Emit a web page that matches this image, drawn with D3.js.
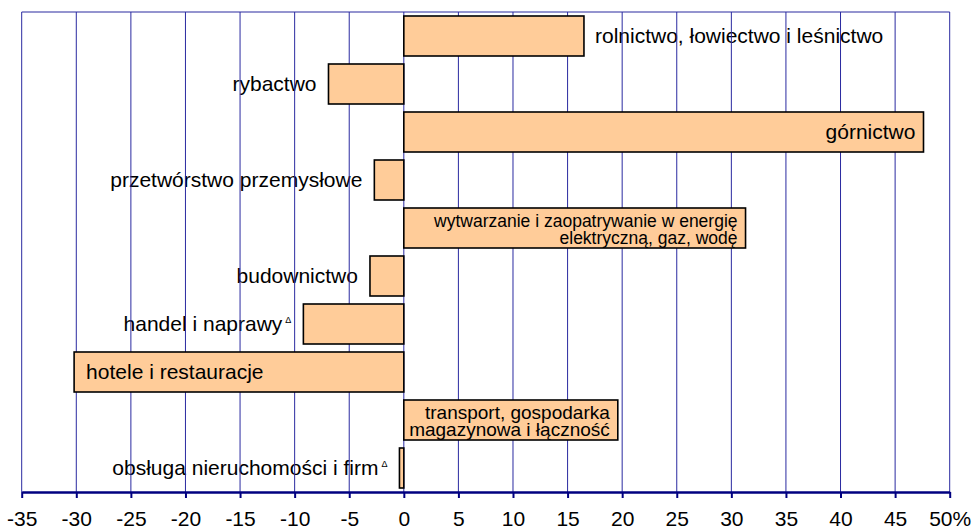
<!DOCTYPE html>
<html>
<head>
<meta charset="utf-8">
<script src="https://cdn.jsdelivr.net/npm/d3@7"></script>
<style>
  html, body { margin: 0; padding: 0; background: #fff; }
  svg { display: block; font-family: "Liberation Sans", Arial, sans-serif; }
</style>
</head>
<body>
<svg id="chart" width="975" height="531"></svg>
<script>
// ---- data ----
const categories = [
  "rolnictwo, łowiectwo i leśnictwo",
  "rybactwo",
  "górnictwo",
  "przetwórstwo przemysłowe",
  "wytwarzanie i zaopatrywanie w energię elektryczną, gaz, wodę",
  "budownictwo",
  "handel i naprawy",
  "hotele i restauracje",
  "transport, gospodarka magazynowa i łączność",
  "obsługa nieruchomości i firm"
];
const values = [16.5, -6.9, 47.6, -2.7, 31.3, -3.1, -9.2, -30.2, 19.6, -0.4];
const labelLines = [
  ["rolnictwo, łowiectwo i leśnictwo"],
  ["rybactwo"],
  ["górnictwo"],
  ["przetwórstwo przemysłowe"],
  ["wytwarzanie i zaopatrywanie w energię", "elektryczną, gaz, wodę"],
  ["budownictwo"],
  ["handel i naprawy"],
  ["hotele i restauracje"],
  ["transport, gospodarka", "magazynowa i łączność"],
  ["obsługa nieruchomości i firm"]
];
const labelMarks = ["", "", "", "", "", "", "Δ", "", "", "Δ"];
const labelPlacement = ["outside", "outside", "insideEnd", "outside", "insideEnd",
                        "outside", "outside", "insideStart", "insideEnd", "outside"];
const tickValues = [-35, -30, -25, -20, -15, -10, -5, 0, 5, 10, 15, 20, 25, 30, 35, 40, 45, 50];
const tickLabels = ["-35", "-30", "-25", "-20", "-15", "-10", "-5", "0", "5", "10", "15", "20", "25", "30", "35", "40", "45", "50%"];

// ---- layout ----
const svg = d3.select("#chart");
const plot = { left: 21.7, right: 949.7, top: 12, bottom: 492 };

const x = d3.scaleLinear().domain([-35, 50]).range([plot.left, plot.right]);
const y = d3.scaleBand().domain(categories).range([plot.top, plot.bottom])
  .paddingInner(1 / 6).paddingOuter(1 / 12);

const gridColor = "#2a2aa0";
const axisColor = "#000080";
const barFill = "#FFCC99";
const fontMain = 21;
const multiFont = { 4: 17.5, 8: 19 };

const outsideLayer = svg.append("g");
const gridLayer = svg.append("g");
const barLayer = svg.append("g");
const insideLayer = svg.append("g");

// outside labels (drawn beneath gridlines, as in reference)
categories.forEach((c, i) => {
  const v = values[i];
  const place = labelPlacement[i];
  const cy = y(c) + y.bandwidth() / 2;
  const xEnd = x(v);
  const x0 = x(0);
  const lines = labelLines[i];
  const fs = lines.length > 1 ? multiFont[i] : fontMain;
  let layer, tx, anchor;
  if (place === "outside") {
    layer = outsideLayer;
    if (v >= 0) { tx = xEnd + 11; anchor = "start"; }
    else { tx = xEnd - 12; anchor = "end"; }
  } else if (place === "insideEnd") {
    layer = insideLayer;
    tx = v >= 0 ? xEnd - 8 : xEnd + 8;
    anchor = v >= 0 ? "end" : "start";
  } else {
    layer = insideLayer;
    tx = v >= 0 ? x0 + 12 : xEnd + 12;
    anchor = "start";
  }
  const t = layer.append("text")
    .attr("text-anchor", anchor)
    .attr("font-size", fs)
    .attr("fill", "#000");
  if (lines.length === 1) {
    t.attr("x", tx).attr("y", cy + fs * 0.35);
    t.append("tspan").text(lines[0]);
    if (labelMarks[i]) {
      t.append("tspan")
        .attr("dx", 3)
        .attr("dy", -8)
        .attr("font-size", 9)
        .text(labelMarks[i]);
    }
  } else {
    const lh = 17.2;
    lines.forEach((ln, k) => {
      t.append("tspan").attr("x", tx).attr("y", cy - 1 + k * lh).text(ln);
    });
  }
});

// gridlines
gridLayer.selectAll("line.grid")
  .data(tickValues)
  .join("line")
  .attr("x1", d => x(d)).attr("x2", d => x(d))
  .attr("y1", plot.top).attr("y2", plot.bottom)
  .attr("stroke", gridColor).attr("stroke-width", 1);
gridLayer.append("line")
  .attr("x1", plot.left).attr("x2", plot.right)
  .attr("y1", plot.top).attr("y2", plot.top)
  .attr("stroke", gridColor).attr("stroke-width", 1.2);

// bars
barLayer.selectAll("rect")
  .data(categories)
  .join("rect")
  .attr("x", (d, i) => Math.min(x(0), x(values[i])))
  .attr("width", (d, i) => Math.abs(x(values[i]) - x(0)))
  .attr("y", d => y(d))
  .attr("height", y.bandwidth())
  .attr("fill", barFill)
  .attr("stroke", "#000")
  .attr("stroke-width", 1.6);

// bring inside labels to top
insideLayer.raise();

// x axis
const axis = d3.axisBottom(x)
  .tickValues(tickValues)
  .tickFormat((d, i) => tickLabels[i])
  .tickSize(6)
  .tickSizeOuter(0)
  .tickPadding(13);
const ax = svg.append("g")
  .attr("transform", `translate(0,${plot.bottom})`)
  .call(axis);
ax.select(".domain").attr("stroke", axisColor).attr("stroke-width", 2.4);
ax.selectAll(".tick line").attr("stroke", axisColor).attr("stroke-width", 2);
ax.selectAll(".tick text")
  .attr("font-size", fontMain)
  .attr("font-family", "'Liberation Sans', Arial, sans-serif")
  .attr("fill", "#000");
</script>
</body>
</html>
